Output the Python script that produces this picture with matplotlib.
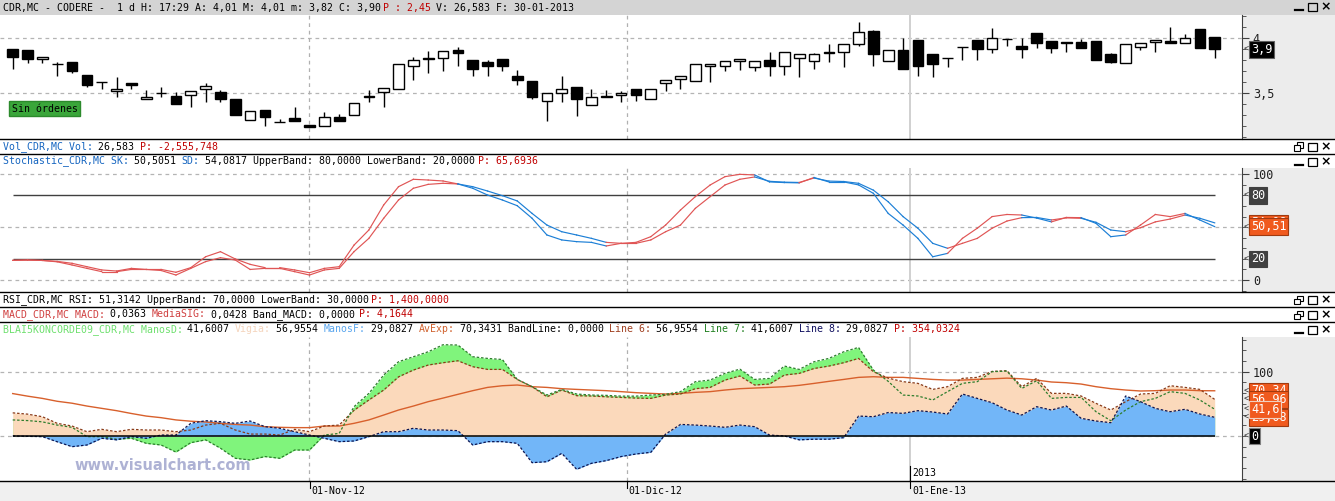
import matplotlib
matplotlib.use("Agg")
import numpy as np
import matplotlib.pyplot as plt
from matplotlib.patches import Rectangle
from matplotlib.lines import Line2D

# ---- price candles (daily, CDR.MC) ----
opens = [3.90, 3.89, 3.81, 3.764, 3.782, 3.664, 3.603, 3.518, 3.591, 3.445,
         3.50, 3.479, 3.482, 3.536, 3.512, 3.445, 3.258, 3.348, 3.236, 3.276,
         3.212, 3.20, 3.285, 3.30, 3.47, 3.509, 3.536, 3.745, 3.824, 3.821,
         3.894, 3.80, 3.785, 3.812, 3.658, 3.612, 3.427, 3.50, 3.555, 3.391,
         3.476, 3.482, 3.536, 3.445, 3.591, 3.627, 3.612, 3.745, 3.748, 3.791,
         3.739, 3.80, 3.748, 3.818, 3.791, 3.876, 3.873, 3.945, 4.07, 3.797,
         3.891, 3.985, 3.858, 3.821, 3.918, 3.985, 3.90, 3.991, 3.93, 4.048,
         3.976, 3.961, 3.97, 3.976, 3.858, 3.773, 3.918, 3.967, 3.976, 3.961,
         4.085, 4.01]
highs = [3.90, 3.89, 3.827, 3.788, 3.782, 3.664, 3.603, 3.645, 3.591, 3.530,
         3.555, 3.512, 3.518, 3.591, 3.530, 3.445, 3.339, 3.348, 3.27, 3.373,
         3.212, 3.327, 3.312, 3.409, 3.53, 3.548, 3.767, 3.833, 3.888, 3.882,
         3.924, 3.80, 3.803, 3.812, 3.712, 3.612, 3.50, 3.655, 3.555, 3.536,
         3.53, 3.524, 3.536, 3.536, 3.618, 3.661, 3.767, 3.764, 3.791, 3.809,
         3.791, 3.873, 3.873, 3.855, 3.864, 3.948, 3.948, 4.145, 4.076, 3.891,
         4.00, 3.985, 3.858, 3.821, 3.918, 3.985, 4.094, 3.991, 4.00, 4.048,
         3.976, 3.961, 3.991, 3.976, 3.864, 3.948, 3.955, 3.985, 4.10, 4.039,
         4.085, 4.01]
lows = [3.72, 3.779, 3.773, 3.661, 3.688, 3.555, 3.542, 3.470, 3.536, 3.445,
        3.47, 3.40, 3.373, 3.418, 3.424, 3.30, 3.258, 3.206, 3.236, 3.245,
        3.19, 3.20, 3.245, 3.30, 3.424, 3.373, 3.536, 3.624, 3.688, 3.706,
        3.752, 3.661, 3.661, 3.706, 3.579, 3.452, 3.252, 3.418, 3.297, 3.391,
        3.464, 3.418, 3.427, 3.445, 3.524, 3.536, 3.612, 3.606, 3.706, 3.712,
        3.706, 3.661, 3.67, 3.652, 3.724, 3.788, 3.742, 3.933, 3.752, 3.797,
        3.724, 3.661, 3.652, 3.742, 3.803, 3.803, 3.864, 3.933, 3.824, 3.915,
        3.87, 3.879, 3.915, 3.803, 3.779, 3.773, 3.894, 3.876, 3.961, 3.961,
        3.915, 3.82]
closes = [3.83, 3.815, 3.827, 3.764, 3.706, 3.579, 3.603, 3.536, 3.573, 3.464,
          3.50, 3.40, 3.518, 3.564, 3.452, 3.30, 3.339, 3.288, 3.236, 3.245,
          3.19, 3.282, 3.245, 3.409, 3.47, 3.548, 3.767, 3.80, 3.809, 3.882,
          3.864, 3.724, 3.752, 3.752, 3.624, 3.47, 3.50, 3.536, 3.452, 3.464,
          3.464, 3.50, 3.488, 3.536, 3.618, 3.661, 3.767, 3.764, 3.791, 3.809,
          3.791, 3.752, 3.873, 3.855, 3.855, 3.864, 3.948, 4.055, 3.861, 3.891,
          3.724, 3.752, 3.77, 3.821, 3.918, 3.906, 4.00, 3.991, 3.906, 3.961,
          3.915, 3.961, 3.915, 3.803, 3.785, 3.948, 3.955, 3.985, 3.961, 4.00,
          3.915, 3.90]

# ---- stochastic ----
sk = [18.6, 18.9, 18.5, 17.6, 15.8, 12.6, 9.5, 8.5, 11.0, 10.0,
      10.0, 7.3, 11.7, 22.0, 26.8, 19.9, 14.8, 11.7, 11.7, 9.5,
      6.9, 11.0, 12.6, 33.0, 47.3, 71.0, 88.3, 95.3, 94.6, 93.7,
      90.9, 86.8, 80.4, 75.7, 70.3, 58.4, 42.6, 37.9, 36.3, 35.6,
      32.2, 34.7, 35.6, 41.0, 52.0, 66.2, 78.9, 89.9, 97.8, 100.0,
      99.4, 92.8, 92.2, 91.9, 97.0, 92.8, 92.8, 90.0, 82.0, 63.0,
      52.0, 39.4, 22.0, 25.2, 39.4, 49.0, 60.0, 62.0, 61.5, 58.6,
      55.0, 59.2, 59.0, 53.6, 41.0, 42.6, 52.0, 62.0, 60.0, 63.0,
      56.8, 50.5051]
sd = [18.6, 18.9, 18.5, 17.2, 14.2, 11.0, 7.9, 7.9, 10.0, 10.0,
      9.0, 4.7, 11.0, 17.4, 21.1, 18.9, 10.0, 11.0, 11.0, 7.9,
      4.7, 9.5, 11.0, 26.8, 39.4, 58.4, 75.7, 86.8, 90.5, 91.5,
      90.9, 88.3, 84.2, 79.8, 74.8, 63.0, 52.0, 45.7, 42.6, 39.4,
      35.6, 34.7, 34.7, 37.9, 45.7, 52.0, 67.8, 78.9, 89.9, 95.3,
      97.5, 93.4, 92.6, 92.3, 96.5, 93.6, 93.2, 91.5, 85.0, 74.0,
      60.0, 49.0, 34.7, 30.0, 34.7, 39.4, 49.0, 55.8, 59.0, 59.2,
      56.8, 58.8, 58.4, 54.6, 47.3, 45.7, 49.5, 55.0, 57.7, 61.5,
      58.4, 54.0817]

# ---- BLAI5 Koncorde ----
manos_d = [25, 24, 22, 17, 13.5, -1, -1, -5, -3.6, -11.4,
           -14, -25, -10.4, -6, -19, -34.7, -37.3, -32, -34.7, -21.8,
           -21.8, 1.5, 4, 45.6, 66.3, 94.8, 115.5, 123.3, 131, 142,
           141.5, 123.3, 120.7, 119, 88, 76.7, 63.7, 72.5, 65.3, 63.7,
           63.2, 62, 62, 63.7, 64.8, 69, 84.5, 87, 97.4, 104,
           88, 89.6, 108.8, 103.6, 115.5, 120.7, 131, 137.8, 102.6, 85,
           63.7, 62.2, 56, 69, 81.9, 84.5, 100, 101, 74, 86,
           58.5, 60, 60, 37.8, 23.8, 40.4, 53.4, 58.5, 69, 66.3,
           56, 41.6007]
vigia = [36, 34, 30, 19.7, 15.5, 6.7, 10.4, 6.7, 10.4, 9.3,
         9.3, 6.7, 9.3, 17, 19.7, 9.3, 3, 3, 1.5, 10.4,
         6.7, 15.5, 17, 40, 56, 71.5, 92, 102.6, 110.4, 114,
         117, 107.8, 103.6, 103.6, 88, 76.7, 61, 71.5, 62.7, 62.2,
         61, 60, 59, 58.5, 63.7, 65.3, 73.6, 75.6, 87, 93.3,
         79.3, 80.8, 94.8, 97.4, 105, 108.8, 114, 120.7, 100, 90,
         84.5, 81.9, 72.5, 76.7, 89.6, 91.2, 100.5, 101.6, 76.7, 89.6,
         66.3, 66.3, 62.2, 50.8, 40.4, 53.4, 65.3, 66.3, 78.2, 75.6,
         72.5, 56.9554]
manos_f = [0, -0.5, -1, -9, -16.6, -14, -3.6, -6, -1, -3.6,
           1.5, 1.5, 19.7, 23.8, 22.3, 19.7, 23.3, 14.5, 12, 6.7,
           1.5, -3.6, -8.8, -7.8, -1, 6.7, 6.7, 12, 9.3, 9.3,
           8.3, -14, -8.8, -8.8, -11.4, -41.5, -40, -27, -51.8, -42.5,
           -38.3, -32, -28, -25.4, 3, 18, 17, 15.5, 13.5, 17,
           14.5, 1.5, 0, -6, -5, -5, -2.6, 31, 30, 36.5,
           35.2, 39.4, 37.3, 34.2, 65.3, 58.5, 51.8, 40.4, 32.6, 45.6,
           40.4, 46.6, 27.5, 23.3, 20.7, 62.2, 53.4, 43, 37.8, 41.5,
           34.2, 29.0827]
av_exp = [66, 62, 58.5, 54, 51, 46.6, 43, 39.4, 35, 31,
          28.5, 25, 23, 21.8, 19.7, 18, 17, 14.5, 13.5, 13,
          13, 15.5, 15.5, 19.7, 25, 32.6, 40.4, 46.6, 53.4, 59,
          64.8, 70.5, 75.6, 78.2, 79.3, 76.7, 75.6, 73.6, 72.5, 71.5,
          70.5, 69, 67.4, 66.3, 65.3, 66.3, 67.9, 69, 71.5, 73.6,
          74.6, 75.6, 76.7, 78.8, 81.8, 85, 88, 91.2, 92.2, 91.2,
          91.2, 89.6, 88, 87, 87, 88, 89, 90, 89, 87,
          84, 82.9, 80.8, 76.7, 73.6, 71.5, 70, 70.5, 71.5, 71.5,
          70.5, 70.3431]

date_labels = ["01-Nov-12", "01-Dic-12", "01-Ene-13"]
date_pos = [20, 41.37, 60.46]

W, H = 1335, 501
MONO = "DejaVu Sans Mono"
FS = 7.1
CW = 5.937
plt.rcParams['font.family'] = [MONO, 'DejaVu Sans']

fig = plt.figure(figsize=(W / 100, H / 100), dpi=100)
fig.patch.set_facecolor("white")


def rect(x0, y0, x1, y1):
    return [x0 / W, 1 - y1 / H, (x1 - x0) / W, (y1 - y0) / H]


def fig_rect(x0, y0, x1, y1, color, z=-1):
    fig.add_artist(Rectangle((x0 / W, 1 - y1 / H), (x1 - x0) / W, (y1 - y0) / H,
                             transform=fig.transFigure, facecolor=color,
                             edgecolor="none", zorder=z))


def fig_line(x0, y0, x1, y1, color="black", lw=1.0, z=5):
    fig.add_artist(Line2D([x0 / W, x1 / W], [1 - y0 / H, 1 - y1 / H],
                          transform=fig.transFigure, color=color, lw=lw, zorder=z))


def header(y, parts, x0=3):
    n = 0
    for txt, col in parts:
        fig.text((x0 + n * CW) / W, 1 - y / H, txt, color=col, fontsize=FS,
                 family=MONO, va="center", ha="left")
        n += len(txt)


def icons(y, first="min"):
    # minimize / restore, maximize, close
    cx = [1299, 1312, 1325.5]
    if first == "min":
        fig_line(cx[0] - 4, y + 3, cx[0] + 4, y + 3, "black", 1.6, 6)
    else:
        fig.add_artist(Rectangle(((cx[0] - 2) / W, 1 - (y + 1) / H), 6 / W, 5 / H,
                                 transform=fig.transFigure, fill=False,
                                 edgecolor="black", lw=0.8, zorder=6))
        fig.add_artist(Rectangle(((cx[0] - 5) / W, 1 - (y + 4) / H), 6 / W, 5 / H,
                                 transform=fig.transFigure, facecolor="white",
                                 edgecolor="black", lw=0.8, zorder=7))
    fig.add_artist(Rectangle(((cx[1] - 4.5) / W, 1 - (y + 4) / H), 9 / W, 8 / H,
                             transform=fig.transFigure, fill=False,
                             edgecolor="black", lw=0.9, zorder=6))
    fig.text(cx[2] / W, 1 - y / H, "×", fontsize=9, fontweight="bold",
             family="DejaVu Sans", ha="center", va="center")


RED = "#c00000"
BLUE_T = "#1565c0"

# backgrounds
fig_rect(0, 0, W, 15, "#d4d4d4")
fig_rect(1241.7, 15, W, 139, "#ececec")
fig_rect(1241.7, 168.3, W, 291.7, "#ececec")
fig_rect(1241.7, 337, W, 481, "#ececec")
fig_rect(0, 481, W, H, "#f0f0f0")

xlim = (-0.856, 82.82)
xs = np.arange(len(closes))


def style_axis(ax):
    ax.set_xlim(*xlim)
    ax.set_xticks([])
    for s in ("top", "left", "bottom"):
        ax.spines[s].set_visible(False)
    ax.spines["right"].set_color("#404040")
    ax.yaxis.tick_right()
    ax.tick_params(axis="y", which="major", length=5, color="#404040",
                   labelsize=8.5, pad=3, labelcolor="#202020")
    ax.tick_params(axis="y", which="minor", length=3, color="#404040")


def vseps(ax):
    ax.axvline(date_pos[0], color="#b0b0b0", lw=0.9, ls=(0, (3, 3)), zorder=0)
    ax.axvline(date_pos[1], color="#b0b0b0", lw=0.9, ls=(0, (3, 3)), zorder=0)
    ax.axvline(date_pos[2], color="#d0d0d0", lw=1.4, zorder=0)


def box_label(ax, y, txt, fc, tc="white", ec=None, x=1.0075, arrow=True):
    ax.text(x, y, txt, transform=ax.get_yaxis_transform(), ha="left", va="center",
            fontsize=8.5, color=tc, clip_on=False, zorder=10,
            bbox=dict(boxstyle="square,pad=0.15", fc=fc, ec=ec or fc, lw=0.8))
    if arrow:
        ax.text(1.0012, y, "<", transform=ax.get_yaxis_transform(), ha="left",
                va="center", fontsize=6, color="#303030", clip_on=False)


# ---- price panel ----
ax1 = fig.add_axes(rect(0, 15, 1241.7, 139))
style_axis(ax1)
ax1.set_ylim(3.085, 4.212)
ax1.set_yticks([3.5, 4.0])
ax1.set_yticklabels(["3,5", "4"])
ax1.set_yticks(np.arange(3.1, 4.25, 0.1), minor=True)
for lv in (3.5, 4.0):
    ax1.axhline(lv, color="#b4b4b4", lw=0.9, ls=(0, (3, 3)), zorder=0)
vseps(ax1)
ax1.vlines(xs, lows, highs, color="black", lw=1.0, zorder=2)
for i in xs:
    o, c = opens[i], closes[i]
    ax1.bar(i, max(abs(c - o), 0.002), bottom=min(o, c), width=0.72,
            color="black" if c < o else "white", edgecolor="black",
            linewidth=1.0, zorder=3)
box_label(ax1, closes[-1], "3,9", "black", ec="#606060")
fig.text(44.5 / W, 1 - 108.5 / H, "Sin órdenes", fontsize=FS, family=MONO,
         ha="center", va="center", color="black",
         bbox=dict(boxstyle="square,pad=0.25", fc="#3aa63a", ec="#2c8a2c", lw=1))

# ---- stochastic panel ----
ax2 = fig.add_axes(rect(0, 168.3, 1241.7, 291.7))
style_axis(ax2)
ax2.set_ylim(-11.07, 105.7)
ax2.set_yticks([0, 100])
ax2.set_yticklabels(["0", "100"])
ax2.set_yticks(np.arange(-10, 106, 10), minor=True)
for lv in (0, 50, 100):
    ax2.axhline(lv, color="#b4b4b4", lw=0.9, ls=(0, (3, 3)), zorder=0)
vseps(ax2)
ax2.hlines([80, 20], 0, len(sk) - 1, color="#404040", lw=1.0, zorder=1)
for i in range(len(sk) - 1):
    col = "#e05555" if sk[i + 1] >= sd[i + 1] else "#1c7fd6"
    ax2.plot([i, i + 1], [sk[i], sk[i + 1]], color=col, lw=0.85, zorder=3)
    ax2.plot([i, i + 1], [sd[i], sd[i + 1]], color=col, lw=0.85, zorder=3)
box_label(ax2, 80, "80", "#404040")
box_label(ax2, 20, "20", "#404040")
box_label(ax2, sd[-1], "54,08", "#f05a1e", ec="#a03a10", arrow=False)
box_label(ax2, sk[-1], "50,51", "#f05a1e", ec="#a03a10")

# ---- BLAI5 Koncorde panel ----
ax3 = fig.add_axes(rect(0, 337, 1241.7, 481))
style_axis(ax3)
ax3.set_ylim(-70, 154)
ax3.set_yticks([100])
ax3.set_yticklabels(["100"])
ax3.set_yticks(np.arange(-66.67, 154, 100 / 6), minor=True)
for lv in (0, 100):
    ax3.axhline(lv, color="#b4b4b4", lw=0.9, ls=(0, (3, 3)), zorder=0)
vseps(ax3)
ax3.fill_between(xs, 0, manos_d, color="#80f47c", lw=0, zorder=1)
ax3.fill_between(xs, 0, vigia, color="#fbd9bb", lw=0, zorder=1.1)
ax3.fill_between(xs, 0, manos_f, color="#72b6f8", lw=0, zorder=1.2)
ax3.plot(xs, av_exp, color="#d8602c", lw=1.0, zorder=3)
ax3.plot(xs, vigia, color="#8a3b18", lw=0.9, ls=(0, (2, 1.5)), zorder=4)
ax3.plot(xs, manos_d, color="#2d7d2d", lw=0.9, ls=(0, (2, 1.5)), zorder=4)
ax3.plot(xs, manos_f, color="#0c1450", lw=0.9, ls=(0, (2, 1.5)), zorder=4)
ax3.hlines(0, 0, len(xs) - 1, color="black", lw=1.1, zorder=5)
box_label(ax3, av_exp[-1], "70,34", "#f05a1e", ec="#a03a10")
box_label(ax3, vigia[-1], "56,96", "#f05a1e", ec="#a03a10")
box_label(ax3, manos_f[-1], "29,08", "#f05a1e", ec="#a03a10")
box_label(ax3, manos_d[-1], "41,6", "#f05a1e", ec="#f0d0c0")
box_label(ax3, 0, "0", "black", ec="#808080")
ax3.text(0.06, 0.11, "www.visualchart.com", transform=ax3.transAxes,
         fontsize=10.5, fontweight="bold", family="DejaVu Sans",
         color="#aeb2d4", ha="left", va="center", zorder=6)

# ---- separators ----
for yy in (139.3, 154.3, 292.2, 307, 322.3, 481):
    fig_line(0, yy, W, yy, "black", 1.0)

# ---- date axis ----
for lab, p in zip(date_labels, date_pos):
    xp = 12.7 + 14.84 * p
    fig_line(xp, 481, xp, 488, "black", 0.8)
    fig.text((xp + 2) / W, 1 - 491.5 / H, lab, fontsize=FS, family=MONO,
             ha="left", va="center")
xj = 12.7 + 14.84 * date_pos[2]
fig_line(xj, 466, xj, 481, "black", 0.8)
fig.text((xj + 2) / W, 1 - 472.5 / H, "2013", fontsize=FS, family=MONO,
         ha="left", va="center")

# ---- header texts ----
K = "black"
header(7.5, [("CDR,MC - CODERE -  1 d H: 17:29 A: 4,01 M: 4,01 m: 3,82 C: 3,90 ", K),
             ("P : 2,45", RED), (" V: 26,583 F: 30-01-2013", K)])
header(146.7, [("Vol_CDR,MC Vol:", BLUE_T), (" 26,583 ", K), ("P: -2,555,748", RED)])
header(161, [("Stochastic_CDR,MC SK:", BLUE_T), (" 50,5051 ", K), ("SD:", BLUE_T),
             (" 54,0817 UpperBand: 80,0000 LowerBand: 20,0000 ", K),
             ("P: 65,6936", RED)])
header(299.5, [("RSI_CDR,MC RSI: 51,3142 UpperBand: 70,0000 LowerBand: 30,0000 ", K),
               ("P: 1,400,0000", RED)])
header(314.2, [("MACD_CDR,MC MACD:", "#d04040"), (" 0,0363 ", K), ("MediaSIG:", "#d04040"),
               (" 0,0428 Band_MACD: 0,0000 ", K), ("P: 4,1644", RED)])
header(329.2, [("BLAI5KONCORDE09_CDR,MC ManosD:", "#6ee06e"), (" 41,6007 ", K),
               ("Vigia:", "#f5d5bd"), (" 56,9554 ", K), ("ManosF:", "#5aa6ee"),
               (" 29,0827 ", K), ("AvExp:", "#d0602c"), (" 70,3431 BandLine: 0,0000 ", K),
               ("Line 6:", "#a04020"), (" 56,9554 ", K), ("Line 7:", "#208020"),
               (" 41,6007 ", K), ("Line 8:", "#101060"), (" 29,0827 ", K),
               ("P: 354,0324", RED)])

icons(7, "min")
icons(146.5, "restore")
icons(161.5, "min")
icons(299.5, "restore")
icons(314.5, "restore")
icons(329.5, "min")

fig.savefig("out.png", dpi=100)
